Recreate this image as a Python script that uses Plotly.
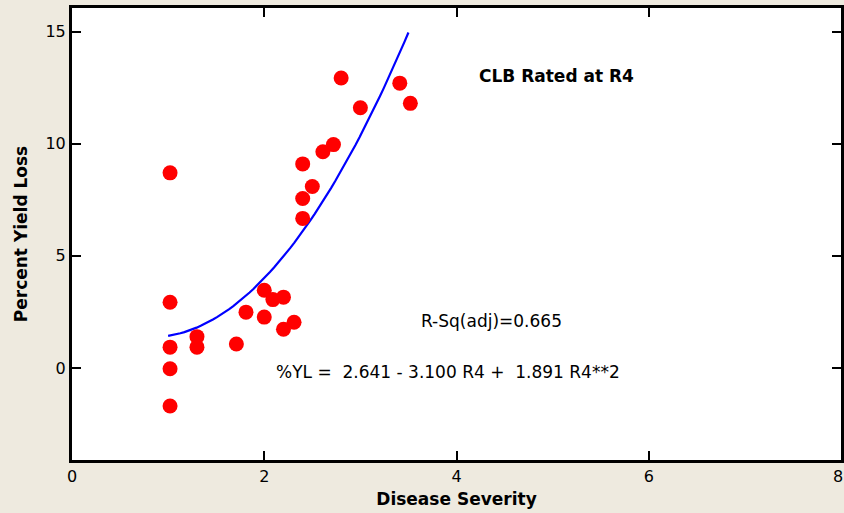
import numpy as np
import plotly.graph_objects as go

severity = [1.02, 1.02, 1.02, 1.02, 1.02, 1.3, 1.3, 1.71, 1.81, 2.0, 2.0, 2.09, 2.2, 2.2, 2.31,
            2.4, 2.4, 2.4, 2.5, 2.61, 2.72, 2.8, 3.0, 3.41, 3.52]
yield_loss = [8.7, 2.93, 0.93, -0.03, -1.69, 1.4, 0.93, 1.07, 2.49, 3.47, 2.27, 3.05, 3.16, 1.73, 2.04,
              9.1, 7.56, 6.67, 8.09, 9.64, 9.96, 12.93, 11.6, 12.7, 11.8]
coef = [2.641, -3.100, 1.891]  # %YL = b0 + b1*R4 + b2*R4^2
x_ticks = [0, 2, 4, 6, 8]
y_ticks = [0, 5, 10, 15]

x_fit = np.linspace(1.0, 3.5, 60)
y_fit = coef[0] + coef[1] * x_fit + coef[2] * x_fit ** 2

font_family = "DejaVu Sans"
bg = "#EEEADF"

fig = go.Figure()
fig.add_trace(go.Scatter(x=x_fit, y=y_fit, mode="lines",
                         line=dict(color="#0000FF", width=2.2), showlegend=False, hoverinfo="skip"))
fig.add_trace(go.Scatter(x=severity, y=yield_loss, mode="markers",
                         marker=dict(color="#FF0000", size=15, line=dict(width=0)), showlegend=False))

axis_common = dict(showgrid=False, zeroline=False, showline=True, linecolor="black", linewidth=3,
                   mirror="ticks", ticks="inside", ticklen=9, tickwidth=2, tickcolor="black",
                   automargin=False,
                   tickfont=dict(family=font_family, size=16, color="black"))

fig.update_xaxes(range=[0, 8], tickvals=x_ticks, ticktext=[str(v) if v != 8 else "" for v in x_ticks],
                 title=dict(text="<b>Disease Severity</b>", font=dict(family=font_family, size=17, color="black"), standoff=8),
                 **axis_common)
fig.update_yaxes(range=[-4.1, 16.05], tickvals=y_ticks,
                 title=dict(text="<b>Percent Yield Loss</b>", font=dict(family=font_family, size=17, color="black"), standoff=14),
                 **axis_common)

# last x tick label (sits on the page edge)
fig.add_annotation(x=1.0, y=0, xref="paper", yref="paper", yanchor="top", yshift=-5,
                   xanchor="right", xshift=4, text=str(x_ticks[-1]), showarrow=False,
                   font=dict(family=font_family, size=16, color="black"))

fig.add_annotation(x=4.21, y=13.0, xanchor="left", yanchor="middle", text="<b>CLB Rated at R4</b>",
                   showarrow=False, font=dict(family=font_family, size=17, color="black"))
fig.add_annotation(x=4.36, y=2.09, xanchor="center", yanchor="middle", text="R-Sq(adj)=0.665",
                   showarrow=False, font=dict(family=font_family, size=17, color="black"))
fig.add_annotation(x=3.91, y=-0.18, xanchor="center", yanchor="middle",
                   text="%YL =  2.641 - 3.100 R4 +  1.891 R4**2",
                   showarrow=False, font=dict(family=font_family, size=17, color="black"))

fig.update_layout(width=844, height=513, margin=dict(l=72, r=3, t=8, b=53),
                  paper_bgcolor=bg, plot_bgcolor="white")

fig.write_html("out.html")
